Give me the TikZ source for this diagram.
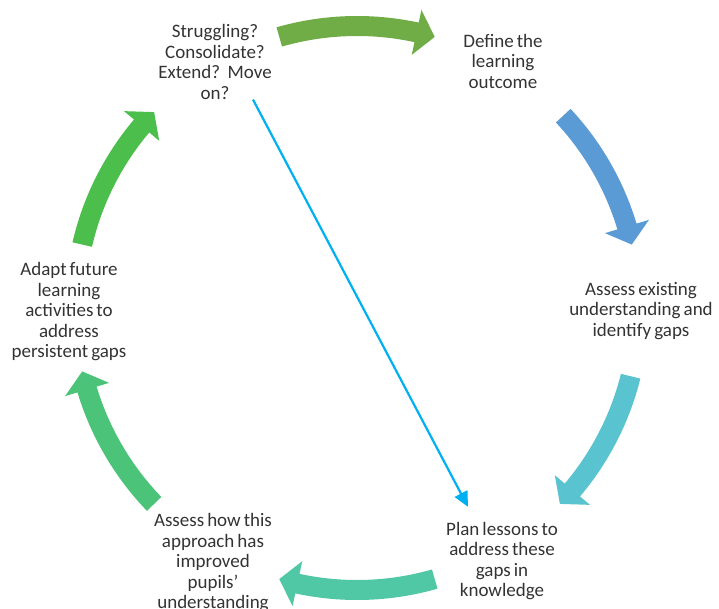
\documentclass[tikz,border=0pt]{standalone}
\usepackage{fontspec}
\setmainfont{Carlito}
\usetikzlibrary{arrows.meta}

\definecolor{textgray}{HTML}{333333}
\definecolor{arrowA}{HTML}{70AD47}
\definecolor{arrowB}{HTML}{5A9BD5}
\definecolor{arrowC}{HTML}{5AC3D0}
\definecolor{arrowD}{HTML}{50C8A5}
\definecolor{arrowE}{HTML}{4BC378}
\definecolor{arrowF}{HTML}{4BBE4B}
\definecolor{linkblue}{HTML}{00B0F0}

% step text font with narrow word spaces
\newcommand\stepfont{\fontsize{19}{20.5}\selectfont
  \spaceskip=0.16em plus 0.05em minus 0.02em\relax}

% curved block arrow on the cycle: colour, tail angle, tip angle (clockwise)
\newcommand\cyclearrow[3]{%
  \pgfmathsetmacro\headbase{#3+3.8}%
  \fill[#1] (#2:292pt) arc[start angle=#2, end angle=\headbase, radius=292pt]
    -- (\headbase:305pt) -- (#3:282pt) -- (\headbase:259pt) -- (\headbase:272pt)
    arc[start angle=\headbase, end angle=#2, radius=272pt] -- cycle;}

\begin{document}
\begin{tikzpicture}[x=1pt, y=1pt,
  steptext/.style={align=center, text=textgray, inner sep=0pt, font=\stepfont},
  link/.style={draw=linkblue, line width=2.2pt,
    -{Triangle[length=15pt, width=14pt]}}]
\useasboundingbox (0,0) rectangle (719,-609);

% cycle steps
\node[steptext] (n1) at (215,-62)  {Struggling?\\Consolidate?\\Extend?~ Move\\on?};
\node[steptext] (n2) at (503,-61)  {Define the\\learning\\outcome};
\node[steptext] (n3) at (641,-311) {Assess existing\\understanding and\\identify gaps};
\node[steptext] (n4) at (502,-561) {Plan lessons to\\address these\\gaps in\\knowledge};
\node[steptext] (n5) at (213,-563) {Assess how this\\approach has\\improved\\pupils’\\understanding};
\node[steptext] (n6) at (69,-312)  {Adapt future\\learning\\activities to\\address\\persistent gaps};

% curved arrows between the steps
\begin{scope}[shift={(357,-308)}]
  \cyclearrow{arrowA}{106}{74}
  \cyclearrow{arrowB}{43}{13}
  \cyclearrow{arrowC}{-14}{-44}
  \cyclearrow{arrowD}{-74}{-106}
  \cyclearrow{arrowE}{-136}{-167}
  \cyclearrow{arrowF}{167}{136}
\end{scope}

% shortcut from the review step straight to planning
\draw[link] ([xshift=38pt]n1.south) -- ([xshift=-34pt, yshift=15pt]n4.north);
\end{tikzpicture}
\end{document}
